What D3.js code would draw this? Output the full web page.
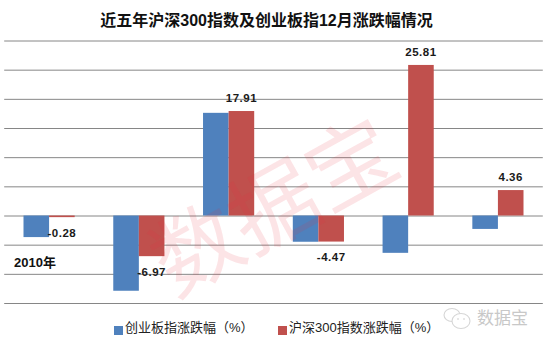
<!DOCTYPE html>
<html>
<head>
<meta charset="utf-8">
<script src="https://cdn.jsdelivr.net/npm/d3@7"></script>
<style>
  html, body { margin: 0; padding: 0; background: #fff; }
  svg { display: block; }
  text { font-family: "Liberation Sans", "Noto Sans CJK SC", sans-serif; }
</style>
</head>
<body>
<div id="chart"></div>
<script>
const titleText = "近五年沪深300指数及创业板指12月涨跌幅情况";
const categories = ["2010年", "2011年", "2012年", "2013年", "2014年", "2015年"];
const seriesNames = ["创业板指涨跌幅（%）", "沪深300指数涨跌幅（%）"];
const seriesColors = ["#4f81bd", "#c0504d"];
const chinextValues = [-3.7, -12.9, 17.6, -4.5, -6.4, -2.3];
const csi300Values = [-0.28, -6.97, 17.91, -4.47, 25.81, 4.36];
const yTicks = [-15, -10, -5, 0, 5, 10, 15, 20, 25, 30];

const width = 548, height = 354;
const svg = d3.select("#chart").append("svg")
    .attr("width", width).attr("height", height);

const x0 = d3.scaleBand().domain(categories).range([4.2, 542.8])
    .paddingInner(0.43).paddingOuter(0.215);
const x1 = d3.scaleBand().domain([0, 1]).range([0, x0.bandwidth()]);
const y = d3.scaleLinear().domain([-15, 30]).range([303, 40.5]);

// Title
svg.append("text").attr("x", 266.5).attr("y", 26)
    .attr("text-anchor", "middle")
    .style("font-size", "16px").style("font-weight", "bold").style("fill", "#111")
    .text(titleText);

// Gridlines
const grid = svg.append("g").attr("transform", "translate(4.2,0)")
    .call(d3.axisRight(y).tickValues(yTicks).tickSize(538.6).tickFormat(""));
grid.select(".domain").remove();
grid.selectAll("line").style("stroke", "#868686").style("stroke-width", 1);

// Bars
[chinextValues, csi300Values].forEach((values, s) => {
    svg.append("g").selectAll("rect")
        .data(values)
        .join("rect")
        .attr("x", (d, i) => x0(categories[i]) + x1(s))
        .attr("y", d => y(Math.max(d, 0)))
        .attr("width", x1.bandwidth())
        .attr("height", d => Math.abs(y(d) - y(0)))
        .attr("fill", seriesColors[s]);
});

// Value labels, only the red series has them
svg.append("g").selectAll("text")
    .data(csi300Values)
    .join("text")
    .attr("x", (d, i) => x0(categories[i]) + x1(1) + x1.bandwidth() / 2)
    .attr("y", d => y(d) + (d < 0 ? 19.5 : -9))
    .attr("text-anchor", "middle")
    .style("font-size", "11.5px").style("font-weight", "bold")
    .style("letter-spacing", "0.5px").style("fill", "#1a1a1a")
    .text(d => d.toFixed(2));

// Only the first category label is shown in the picture
svg.append("text").attr("x", 14).attr("y", 267)
    .style("font-size", "13px").style("font-weight", "bold").style("fill", "#111")
    .text(categories[0]);

// Legend
const legendX = [114, 278];
seriesNames.forEach((name, i) => {
    svg.append("rect").attr("x", legendX[i]).attr("y", 326)
        .attr("width", 9).attr("height", 9).attr("fill", seriesColors[i]);
    svg.append("text").attr("x", legendX[i] + 11).attr("y", 332)
        .style("font-size", "13px").style("fill", "#222")
        .text(name);
});

// Big diagonal watermark
svg.append("text")
    .attr("transform", "translate(278,214) rotate(-29)")
    .attr("text-anchor", "middle").attr("dominant-baseline", "middle")
    .style("font-size", "88px")
    .style("fill", "#e8303a").style("fill-opacity", 0.13)
    .text("数据宝");

// WeChat mark, bottom right
const mark = svg.append("g").attr("transform", "translate(444,318)")
    .style("fill", "#fff").style("stroke", "#d6d6d6").style("stroke-width", 1.1);
mark.append("ellipse").attr("cx", 8).attr("cy", -3).attr("rx", 8).attr("ry", 6.5);
mark.append("ellipse").attr("cx", 17).attr("cy", 3).attr("rx", 9).attr("ry", 7.5);
mark.selectAll("circle").data([[14, 1], [20, 1]]).join("circle")
    .attr("cx", d => d[0]).attr("cy", d => d[1]).attr("r", 0.8)
    .style("fill", "#c8c8c8").style("stroke", "none");
svg.append("text").attr("x", 477).attr("y", 324)
    .style("font-size", "17px").style("fill", "#c8c8c8")
    .text("数据宝");
</script>
</body>
</html>
